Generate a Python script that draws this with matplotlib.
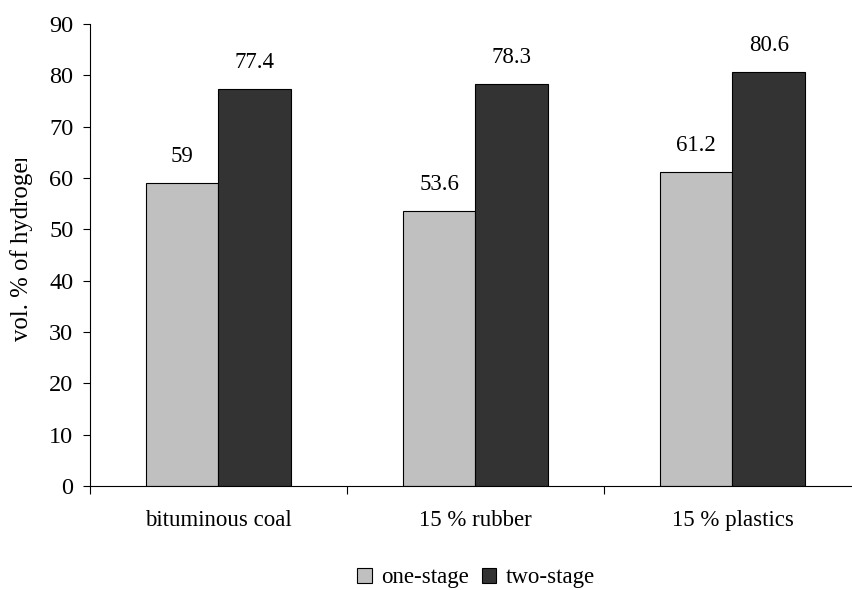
import matplotlib.pyplot as plt
import matplotlib.transforms as mtransforms
import numpy as np

plt.rcParams['font.family'] = ['Liberation Serif', 'DejaVu Serif']

categories = ["bituminous coal", "15 % rubber", "15 % plastics"]
one_stage = [59, 53.6, 61.2]
two_stage = [77.4, 78.3, 80.6]
one_labels = ["59", "53.6", "61.2"]
two_labels = ["77.4", "78.3", "80.6"]

W, H = 853, 590
FS = 16.5
fig = plt.figure(figsize=(W / 100, H / 100), dpi=100)
# axis runs past the right edge, like the original
ax = fig.add_axes([90 / W, 1 - 486 / H, 771 / W, 462 / H])

x = np.arange(len(categories))
bw = 0.284
b1 = ax.bar(x - bw / 2, one_stage, bw, color="#c0c0c0", edgecolor="black", linewidth=0.8, label="one-stage")
b2 = ax.bar(x + bw / 2, two_stage, bw, color="#333333", edgecolor="black", linewidth=0.8, label="two-stage")

for bars, labs in ((b1, one_labels), (b2, two_labels)):
    for r, t in zip(bars, labs):
        ax.annotate(t, (r.get_x() + r.get_width() / 2, r.get_height()),
                    xytext=(0, 15), textcoords="offset points",
                    ha="center", va="baseline", fontsize=FS)

ax.set_xlim(-0.5, 2.5)
ax.set_ylim(0, 90)
ax.set_yticks(range(0, 91, 10))
ax.tick_params(axis="y", labelsize=17.5, length=5, width=0.8, direction="out", pad=7)

ax.set_xticks([-0.5, 0.5, 1.5, 2.5])
ax.set_xticklabels([])
ax.tick_params(axis="x", length=6, width=0.8, direction="out")
for xi, c in zip(x, categories):
    ax.text(xi, -40 / 462, c, transform=ax.get_xaxis_transform(), ha="center", va="baseline", fontsize=FS)

for s in ("top", "right"):
    ax.spines[s].set_visible(False)
for s in ("left", "bottom"):
    ax.spines[s].set_linewidth(0.8)

# y label, clipped at the top like the original
yl = fig.text(22 / W, 1 - 341 / H, "vol. % of hydrogen", rotation=90, ha="center", va="bottom", fontsize=17.8)
clipbox = mtransforms.TransformedBbox(mtransforms.Bbox([[0, 0], [1, 1 - 159 / H]]), fig.transFigure)
yl.set_clip_box(clipbox)
yl.set_clip_on(True)

fig.legend(handles=[b1, b2], loc="center", bbox_to_anchor=(476 / W, 1 - 578 / H), ncol=2,
           frameon=False, fontsize=FS, handlelength=0.62, handleheight=0.62, handletextpad=0.4,
           columnspacing=0.6, borderpad=0)

fig.savefig("out.png", dpi=100)
